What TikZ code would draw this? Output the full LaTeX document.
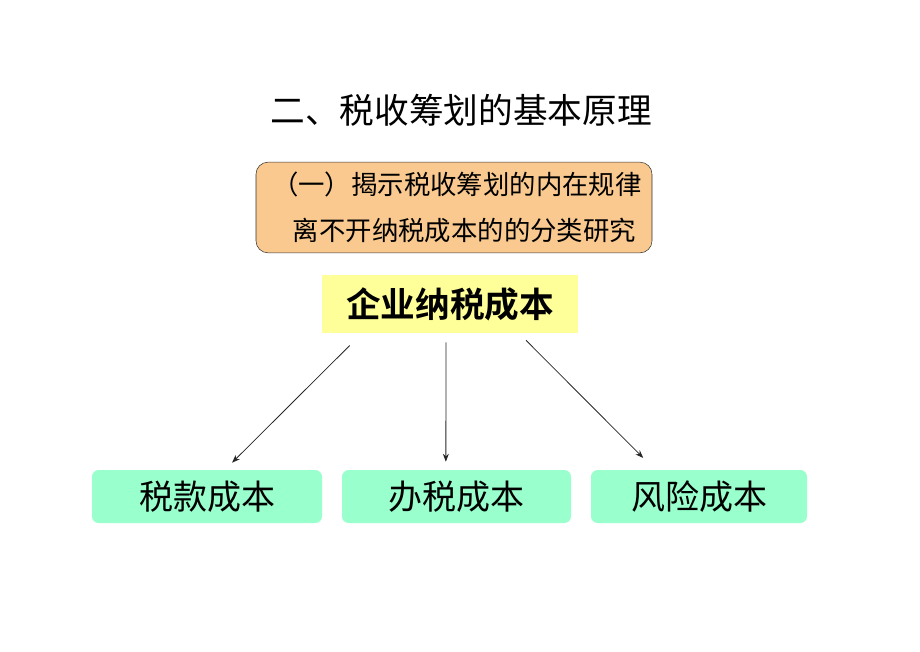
\documentclass[tikz,border=0pt]{standalone}
\usepackage{fontspec}
\setmainfont{Noto Sans CJK SC}
\newfontfamily\cjkbold{Noto Sans CJK SC Bold}
\usepackage{tikz}
\usetikzlibrary{arrows.meta,positioning}
\usepackage{xcolor}
\definecolor{boxorange}{HTML}{F9C98F}
\definecolor{boxyellow}{HTML}{FFFF99}
\definecolor{boxgreen}{HTML}{99FFCC}

\begin{document}
\begin{tikzpicture} [
  x = 0.75pt, y = -0.75pt,
  inner sep = 0,
  principle/.style = { draw = black!80, thin, fill = boxorange, rounded corners = 9pt,
    inner xsep = 12pt, text width = 273pt, minimum height = 68pt, align = right,
    font = \fontsize{19.8}{34.5}\selectfont },
  total/.style = { fill = boxyellow, minimum width = 192pt, minimum height = 43.5pt,
    font = \cjkbold\fontsize{26}{30}\selectfont },
  part/.style = { fill = boxgreen, rounded corners = 5pt, minimum height = 39.75pt,
    font = \fontsize{25.5}{30}\selectfont },
  link/.style = { -{Stealth[length=6pt,width=4.5pt]}, black!85, semithick }
  ]
  \useasboundingbox (0,0) rectangle (920,651);

  \node (title) at (461,110) {\fontsize{26}{30}\selectfont 二、税收筹划的基本原理};
  \node [principle] (rule) at (454,207.5) {（一）揭示税收筹划的内在规律\\离不开纳税成本的的分类研究};
  \node [total] (cost) at (450,304) {企业纳税成本};

  \node [part, minimum width = 172.5pt] (tax) at (207,496.5) {税款成本};
  \node [part, minimum width = 171.75pt] (admin) at (456.5,496.5) {办税成本};
  \node [part, minimum width = 162pt] (risk) at (699,496.5) {风险成本};

  \draw [link, shorten <= 13pt, shorten >= 7.5pt] ([xshift=-66pt]cost.south) -- ([xshift=13.5pt]tax.north);
  \draw [link, shorten <= 6.75pt, shorten >= 6pt] ([xshift=-3pt]cost.south) -- ([xshift=-8pt]admin.north);
  \draw [link, shorten <= 7.5pt, shorten >= 12.5pt] ([xshift=51.75pt]cost.south) -- ([xshift=-33pt]risk.north);
\end{tikzpicture}
\end{document}
